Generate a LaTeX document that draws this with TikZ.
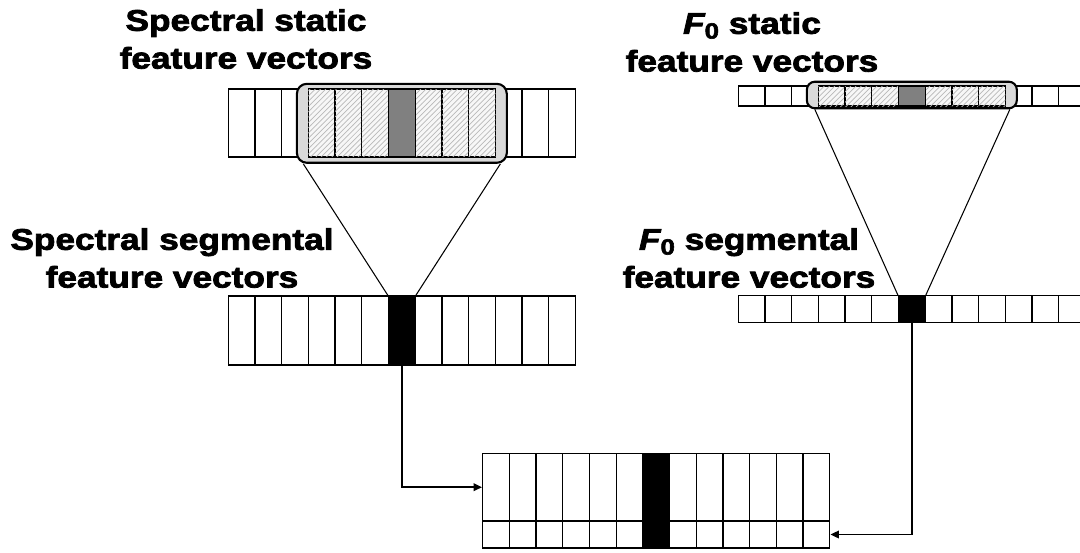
\documentclass[tikz,border=0pt]{standalone}
\usepackage{fontspec}
\usetikzlibrary{arrows.meta,patterns}
\newfontfamily\lblfont{Liberation Sans Bold}[ItalicFont={Liberation Sans Bold Italic}, FakeStretch=1.18, FakeBold=2.6]
\newcommand\Fzero{{\itshape F}\raisebox{-0.3ex}{\fontsize{12.5}{12.5}\selectfont 0}}
\tikzset{
  lbl/.style={font=\lblfont\fontsize{17}{21.5}\selectfont, align=center, inner sep=0pt},
  cell/.style={draw, line width=0.7pt, fill=white, inner sep=0pt, minimum width=0.534cm},
  hatch/.style={cell, fill=gray!6, postaction={pattern=north east lines, pattern color=gray!55}},
  darkcell/.style={cell, fill=black!50},
  blackcell/.style={cell, fill=black},
  window/.style={draw, line width=1.2pt, fill=black!15, rounded corners=0.2cm, inner sep=0pt},
  fan/.style={line width=0.6pt},
  conn/.style={line width=1.1pt, -{Triangle[length=1.7mm,width=1.5mm]}},
}
\begin{document}
\begin{tikzpicture}[x=0.02cm,y=-0.02cm]
\useasboundingbox (0,0) rectangle (1080,552);
\clip (0,0) rectangle (1080,552);

% spectral static feature vectors
\foreach \i in {0,...,12}
  \node[cell, minimum height=1.36cm] (sA-\i) at ({228.3+(\i+0.5)*26.7},123) {};
\node[window, minimum width=4.2cm, minimum height=1.58cm] (sR) at (401.85,123.3) {};
\foreach \i in {3,4,5,7,8,9}
  \node[hatch, minimum height=1.36cm] (sH-\i) at ({228.3+(\i+0.5)*26.7},123) {};
\node[darkcell, minimum height=1.36cm] (sH-6) at ({228.3+6.5*26.7},123) {};

% F0 static feature vectors
\foreach \i in {0,...,12}
  \node[cell, minimum height=0.4cm] (fA-\i) at ({738.3+(\i+0.5)*26.7},96) {};
\node[window, rounded corners=0.16cm, minimum width=4.2cm, minimum height=0.532cm] (fR) at (911.85,95) {};
\foreach \i in {3,4,5,7,8,9}
  \node[hatch, minimum height=0.4cm] (fH-\i) at ({738.3+(\i+0.5)*26.7},96) {};
\node[darkcell, minimum height=0.4cm] (fH-6) at ({738.3+6.5*26.7},96) {};

% spectral segmental feature vectors
\foreach \i in {0,...,12}
  \node[cell, minimum height=1.38cm] (sB-\i) at ({228.3+(\i+0.5)*26.7},330.5) {};
\node[blackcell, minimum height=1.38cm] (sB-6) at ({228.3+6.5*26.7},330.5) {};

% F0 segmental feature vectors
\foreach \i in {0,...,12}
  \node[cell, minimum height=0.54cm] (fB-\i) at ({738.3+(\i+0.5)*26.7},309.2) {};
\node[blackcell, minimum height=0.54cm] (fB-6) at ({738.3+6.5*26.7},309.2) {};

% joint feature vectors
\foreach \i in {0,...,12}{
  \node[cell, minimum height=1.354cm] (bU-\i) at ({482.7+(\i+0.5)*26.7},487.2) {};
  \node[cell, minimum height=0.54cm] (bL-\i) at ({482.7+(\i+0.5)*26.7},534.5) {};
}
\node[blackcell, minimum height=1.354cm] (bU-6) at ({482.7+6.5*26.7},487.2) {};
\node[blackcell, minimum height=0.54cm] (bL-6) at ({482.7+6.5*26.7},534.5) {};

% segment windows
\draw[fan] ([xshift=0.15cm]sR.south west) -- (sB-6.north west);
\draw[fan] ([xshift=-0.15cm]sR.south east) -- (sB-6.north east);
\draw[fan] ([xshift=0.18cm]fR.south west) -- (fB-6.north west);
\draw[fan] ([xshift=-0.16cm]fR.south east) -- (fB-6.north east);

% concatenation
\draw[conn] (sB-6.south) |- (bU-0.west);
\draw[conn] (fB-6.south) |- (bL-12.east);

% labels
\node[lbl] (t1) at (246,39) {Spectral static\\feature vectors};
\node[lbl] (t2) at (752,42) {\Fzero{} static\\feature vectors};
\node[lbl] (t3) at (172,258) {Spectral segmental\\feature vectors};
\node[lbl] (t4) at (749,258) {\Fzero{} segmental\\feature vectors};
\end{tikzpicture}
\end{document}
